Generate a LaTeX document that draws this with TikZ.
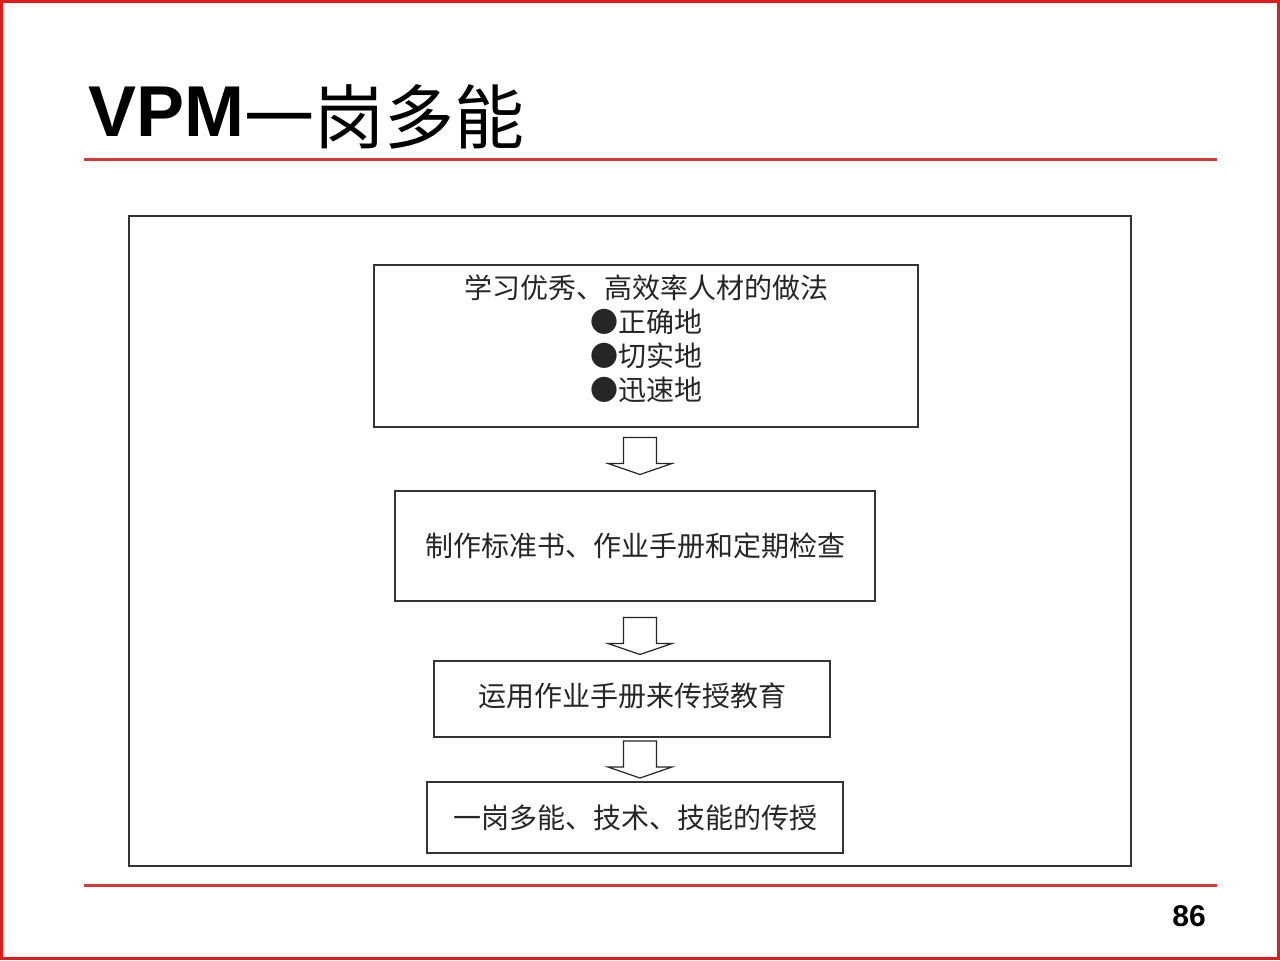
\documentclass[tikz,border=0pt]{standalone}
\usepackage{fontspec}
\setmainfont{Liberation Sans}
\newfontfamily\cjk{Noto Sans CJK SC}
\usetikzlibrary{
  calc,        % 坐标计算
  positioning  % 节点相对定位
}
\definecolor{slidered}{RGB}{226,26,26}
\definecolor{rulered}{RGB}{214,56,56}
\tikzset{
  stepbox/.style={
    draw=black!80,
    line width=0.6pt,
    inner sep=0pt,
    align=center,
    text=black!85,
    font=\cjk\fontsize{14}{17}\selectfont
  },
  block arrow/.style={
    draw=black!85,
    line width=0.6pt,
    fill=white
  },
  red rule/.style={
    draw=rulered,
    line width=1.5pt
  }
}
% 空心下箭头：#1 为箭头中心
\newcommand{\downblock}[1]{%
  \draw[block arrow] (#1) ++(-16.5,-18.5) -- ++(0,26) -- ++(-15.5,0)
    -- ++(32,11) -- ++(32,-11) -- ++(-15.5,0) -- ++(0,-26) -- cycle;}

\begin{document}
\begin{tikzpicture}[x=0.5pt, y=-0.5pt] % 以像素为单位，y 轴向下

  % 页面边框与版面
  \useasboundingbox (0,0) rectangle (1280,960);
  \fill[white] (0,0) rectangle (1280,960);
  \draw[slidered, line width=1.5pt] (1.5,1.5) rectangle (1278.5,958.5); % 外侧红框

  % 标题与红色横线
  \node[anchor=base west, inner sep=0pt] (title) at (88,136)
    {\fontsize{36}{36}\selectfont\bfseries VPM{\cjk\mdseries\fontsize{35}{35}\selectfont\raisebox{-3.5pt}{一岗多能}}};
  \draw[red rule] (84,159) -- (1217,159); % 标题下横线
  \draw[red rule] (84,885) -- (1217,885); % 页脚横线
  \node[font=\bfseries\fontsize{15}{15}\selectfont] (pageno) at (1189,916) {86};

  % 内框
  \draw[black!80, line width=0.6pt] (129,216) rectangle (1131,866);

  % 四个步骤框
  \node[stepbox, minimum width=272pt, minimum height=81pt, text depth=8pt] (b1) at (646,346)
    {学习优秀、高效率人材的做法\\●正确地\\●切实地\\●迅速地};
  \node[stepbox, minimum width=240pt, minimum height=55pt] (b2) at (635,546)
    {制作标准书、作业手册和定期检查};
  \node[stepbox, minimum width=198pt, minimum height=38pt, text depth=4pt] (b3) at (632,699)
    {运用作业手册来传授教育};
  \node[stepbox, minimum width=208pt, minimum height=35.5pt] (b4) at (635,817.5)
    {一岗多能、技术、技能的传授};

  % 框间空心箭头
  \coordinate (axis) at (640,0); % 箭头所在竖线
  \coordinate (m1) at ($(b1.south)!0.5!(b2.north)+(0,-3)$);
  \coordinate (m2) at ($(b2.south)!0.5!(b3.north)+(0,5)$);
  \coordinate (m3) at ($(b3.south)!0.5!(b4.north)$);
  \coordinate (a1) at (axis |- m1);
  \coordinate (a2) at (axis |- m2);
  \coordinate (a3) at (axis |- m3);
  \downblock{a1}
  \downblock{a2}
  \downblock{a3}

\end{tikzpicture}
\end{document}
